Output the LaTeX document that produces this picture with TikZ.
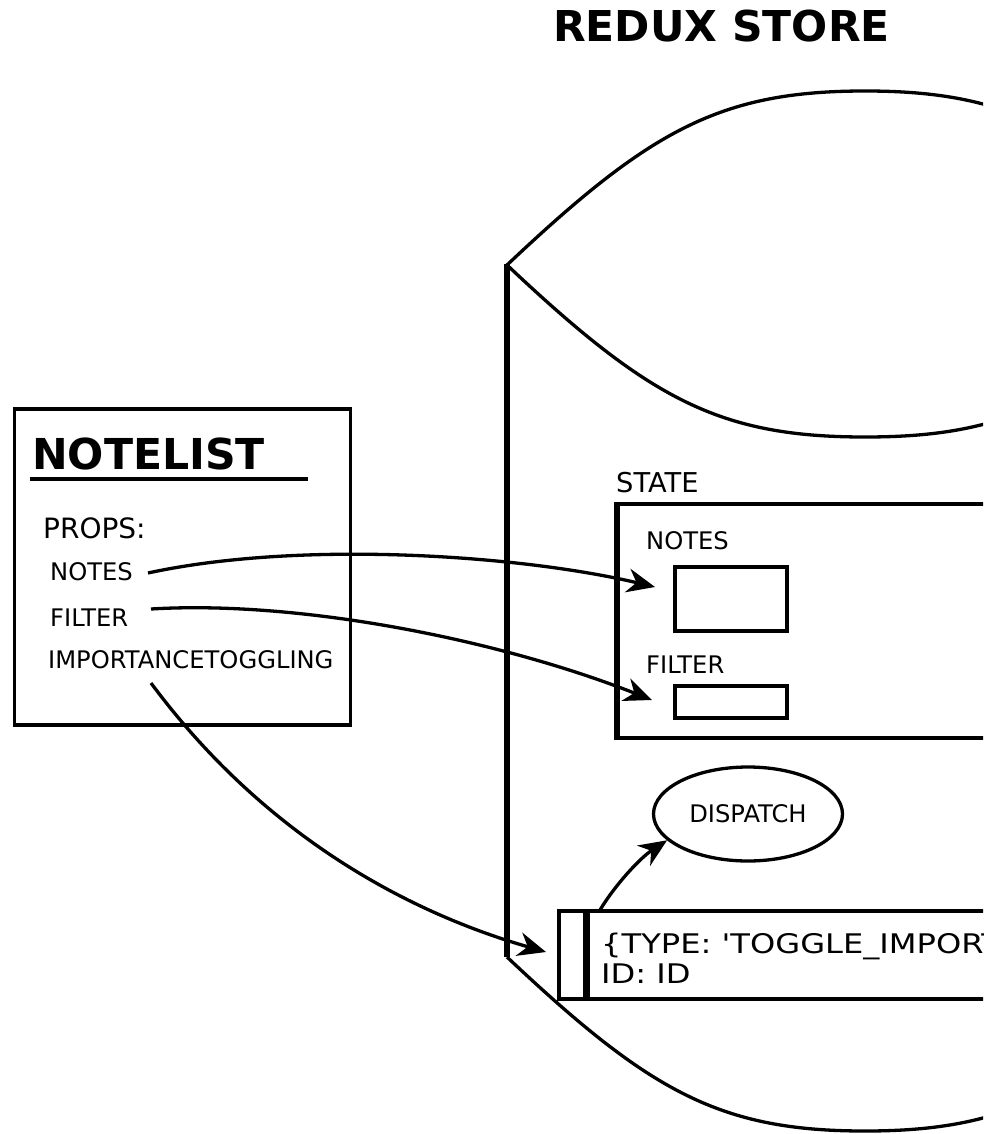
\documentclass[tikz,border=0pt]{standalone}
\usepackage{fontspec}
\setmainfont{DejaVu Sans}
\newfontfamily\actfont[FakeStretch=1.19]{DejaVu Sans}
\usetikzlibrary{arrows.meta,shapes.geometric,positioning}
\tikzstyle{l1}=[line width=3.3]
\tikzstyle{box}=[draw=black, line width=3.3, inner sep=0pt, outer sep=0pt]
\tikzstyle{lbl}=[anchor=base west, inner sep=0pt]
\tikzstyle{arr}=[line width=3.3, -{Stealth[length=28pt,width=24pt,inset=9pt]}]
\newcommand{\titlefont}{\fontsize{42.5}{50}\selectfont\bfseries}
\newcommand{\propfont}{\fontsize{28}{32}\selectfont}
\newcommand{\lblfont}{\fontsize{24.2}{28}\selectfont}

\begin{document}
\begin{tikzpicture}[x=1pt, y=-1pt]
    \useasboundingbox (0,0) rectangle (983,1134);
    \clip (0,0) rectangle (983,1134);

    % the store
    \node (store) [lbl, font=\titlefont] at (553,42) {REDUX STORE};
    \draw[l1] (507,265) .. controls (650,130) and (720,91) .. (865,91)
              .. controls (1010,91) and (1080,130) .. (1223,265)
              .. controls (1080,400) and (1010,437) .. (865,437)
              .. controls (720,437) and (650,400) .. (507,265) -- cycle;
    \draw[line width=5.5] (507,264) -- (507,957);
    \draw[l1] (507,957) .. controls (650,1092) and (720,1131) .. (865,1131)
              .. controls (1010,1131) and (1080,1092) .. (1223,957);

    % component
    \node (nl) [box, anchor=north west, minimum width=336pt, minimum height=316pt] at (14.5,409) {};
    \node (nltitle) [lbl, font=\fontsize{42.6}{50}\selectfont\bfseries] at (32,469) {NOTELIST};
    \draw[l1] (30,479) -- (308,479);
    \node (props) [lbl, font=\propfont] at (43,538) {PROPS:};
    \node (pnotes) [lbl, font=\lblfont] at (50,580) {NOTES};
    \node (pfilter) [lbl, font=\lblfont] at (50,626) {FILTER};
    \node (pimp) [lbl, font=\lblfont] at (48,668) {IMPORTANCETOGGLING};

    % state
    \node (state) [lbl, font=\fontsize{27.3}{30}\selectfont] at (616,492) {STATE};
    \draw[l1] (1300,504) -- (617,504);
    \draw[l1] (617,738) -- (1300,738);
    \draw[line width=6] (617,502) -- (617,740);
    \node (snotes) [lbl, font=\lblfont] at (646,549) {NOTES};
    \node (nbox) [box, minimum width=112pt, minimum height=64pt] at (731,599) {};
    \node (sfilter) [lbl, font=\lblfont] at (646,673) {FILTER};
    \node (fbox) [box, minimum width=112pt, minimum height=32pt] at (731,702) {};

    % dispatch and action
    \node (disp) [ellipse, draw=black, line width=3.3, minimum width=189pt, minimum height=94pt,
                  inner sep=0pt, font=\lblfont] at (748,814) {DISPATCH};
    \draw[l1] (559,911) rectangle (586,999);
    \draw[l1] (586,911) rectangle (1300,999);
    \draw[line width=7] (586.5,909.5) -- (586.5,1000.5);
    \node (act1) [lbl, font=\fontsize{27}{30}\actfont] at (601,953) {\{TYPE: 'TOGGLE\_IMPORTANCE',};
    \node (act2) [lbl, font=\fontsize{27}{30}\actfont] at (601,983) {ID: ID};

    % connections
    \coordinate (nout) at (148,573); \coordinate (nin) at (655,587);
    \coordinate (fout) at (151,609); \coordinate (fin) at (652,700);
    \coordinate (iout) at (151,683); \coordinate (ain) at (546,952);
    \coordinate (aout) at (600,910);
    \draw[arr] (nout) .. controls (300,540) and (520,555) .. (nin);
    \draw[arr] (fout) .. controls (300,600) and (500,640) .. (fin);
    \draw[arr] (iout) .. controls (260,830) and (400,910) .. (ain);
    \draw[arr] (aout) .. controls (615,885) and (640,858) .. (disp.198);

\end{tikzpicture}
\end{document}
